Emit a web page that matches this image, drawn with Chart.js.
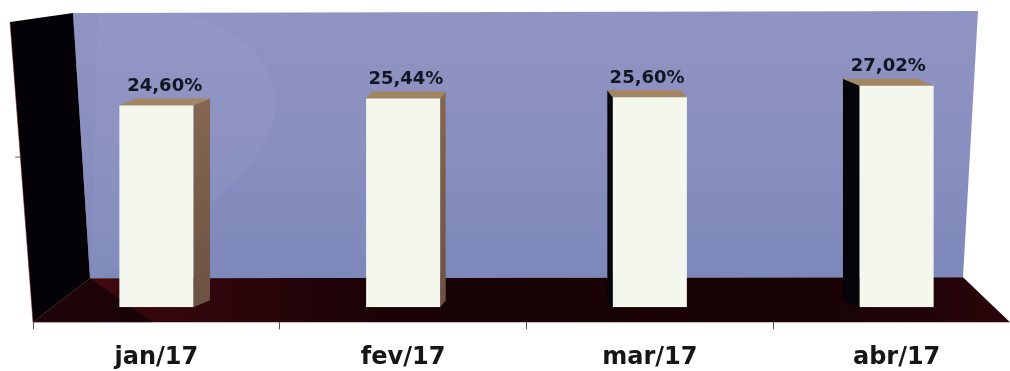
<!DOCTYPE html>
<html>
<head>
<meta charset="utf-8">
<script src="https://cdn.jsdelivr.net/npm/chart.js@4.4.1/dist/chart.umd.min.js"></script>
<style>
  html, body { margin: 0; padding: 0; background: #fff; overflow: hidden; width: 1010px; height: 371px; }
  #wrap { width: 1022px; height: 371px; }
</style>
</head>
<body>
<div id="wrap"><canvas id="chart" width="1022" height="371"></canvas></div>
<script>
const months = ["jan/17", "fev/17", "mar/17", "abr/17"];
const rates = [24.60, 25.44, 25.60, 27.02];
const yMin = 0;
const yMax = 36;

function pct(v) {
  return v.toFixed(2).replace(".", ",") + "%";
}

function poly(ctx, pts, fill) {
  ctx.beginPath();
  ctx.moveTo(pts[0][0], pts[0][1]);
  for (let i = 1; i < pts.length; i++) ctx.lineTo(pts[i][0], pts[i][1]);
  ctx.closePath();
  ctx.fillStyle = fill;
  ctx.fill();
}

// depth offset of a bar, leaning towards the middle of the box
function depth(chart, x) {
  const a = chart.chartArea;
  const mid = (a.left + a.right) / 2;
  return { dx: (x - mid) * -0.045, dy: -7 };
}

// back wall, side wall and floor, then the hidden faces of each bar
const box3d = {
  id: "box3d",
  beforeDatasetsDraw(chart) {
    const ctx = chart.ctx;
    const a = chart.chartArea;
    ctx.save();

    const backTL = [a.left + 40, a.top + 1];
    const backTR = [a.right - 42, a.top - 1];
    const backBR = [a.right - 57, a.bottom - 30];
    const backBL = [a.left + 57, a.bottom - 29];
    const frontL = [a.left, a.bottom + 15];
    const frontR = [a.right - 10, a.bottom + 15];
    const outerTop = [a.left - 23, a.top + 10];

    // back wall
    let g = ctx.createLinearGradient(0, a.top, 0, a.bottom - 30);
    g.addColorStop(0, "#9094c3");
    g.addColorStop(0.5, "#898fbf");
    g.addColorStop(1, "#7d88ba");
    poly(ctx, [backTL, backTR, backBR, backBL], g);

    // faint swirl on the wall
    ctx.beginPath();
    ctx.moveTo(backTL[0] + 25, backTL[1]);
    ctx.lineTo(a.left + 145, a.top + 1);
    ctx.bezierCurveTo(a.left + 230, a.top + 20, a.left + 250, a.top + 70, a.left + 240, a.top + 110);
    ctx.bezierCurveTo(a.left + 225, a.top + 170, a.left + 140, a.top + 220, a.left + 70, a.bottom - 31);
    ctx.lineTo(backBL[0], backBL[1]);
    ctx.closePath();
    ctx.fillStyle = "rgba(255,255,255,0.035)";
    ctx.fill();

    // floor
    g = ctx.createLinearGradient(a.left, 0, a.right, 0);
    g.addColorStop(0, "#4a0b13");
    g.addColorStop(0.12, "#36070d");
    g.addColorStop(0.35, "#1a0306");
    g.addColorStop(0.8, "#180305");
    g.addColorStop(1, "#2a050a");
    poly(ctx, [backBL, backBR, frontR, frontL], g);
    // shadow of the wall on the floor
    poly(ctx, [backBL, [a.left + 120, a.bottom + 15], frontL], "rgba(0,0,0,0.55)");

    // left wall
    poly(ctx, [outerTop, backTL, backBL, frontL], "#040207");
    ctx.beginPath();
    ctx.moveTo(outerTop[0], outerTop[1]);
    ctx.lineTo(frontL[0], frontL[1]);
    ctx.strokeStyle = "rgba(120,30,50,0.5)";
    ctx.lineWidth = 1;
    ctx.stroke();

    // small tick on the wall edge
    const f = 0.45;
    const my = outerTop[1] + (frontL[1] - outerTop[1]) * f;
    const mx = outerTop[0] + (frontL[0] - outerTop[0]) * f;
    ctx.beginPath();
    ctx.moveTo(mx - 5, my);
    ctx.lineTo(mx, my);
    ctx.strokeStyle = "#555";
    ctx.stroke();

    // bar sides and tops
    const meta = chart.getDatasetMeta(0);
    meta.data.forEach((el) => {
      const p = el.getProps(["x", "y", "base", "width"], true);
      const d = depth(chart, p.x);
      const l = p.x - p.width / 2;
      const r = p.x + p.width / 2;
      if (d.dx > 0) {
        const sg = ctx.createLinearGradient(0, p.y, 0, p.base);
        sg.addColorStop(0, "#846650");
        sg.addColorStop(1, "#6a5242");
        poly(ctx, [[r, p.y], [r + d.dx, p.y + d.dy], [r + d.dx, p.base + d.dy], [r, p.base]], sg);
      } else {
        poly(ctx, [[l, p.y], [l + d.dx, p.y + d.dy], [l + d.dx, p.base + d.dy], [l, p.base]], "#050409");
      }
      poly(ctx, [[l, p.y], [l + d.dx, p.y + d.dy], [r + d.dx, p.y + d.dy], [r, p.y]], "#a3855f");
    });
    ctx.restore();
  },
  afterDatasetsDraw(chart) {
    const ctx = chart.ctx;
    const meta = chart.getDatasetMeta(0);
    ctx.save();
    ctx.font = "bold 18px 'DejaVu Sans'";
    ctx.fillStyle = "#121522";
    ctx.textAlign = "center";
    ctx.textBaseline = "middle";
    meta.data.forEach((el, i) => {
      const p = el.getProps(["x", "y"], true);
      const d = depth(chart, p.x);
      ctx.fillText(pct(rates[i]), p.x + d.dx / 2, p.y - 19);
    });
    ctx.restore();
  }
};

new Chart(document.getElementById("chart"), {
  type: "bar",
  data: {
    labels: months,
    datasets: [{
      data: rates,
      backgroundColor: "#f3f7ee",
      borderWidth: 0,
      barPercentage: 0.3,
      categoryPercentage: 1
    }]
  },
  options: {
    responsive: false,
    animation: false,
    layout: { padding: { left: 33, right: 2, top: 12, bottom: -15 } },
    plugins: {
      legend: { display: false },
      tooltip: { enabled: false }
    },
    scales: {
      x: {
        grid: { offset: true, drawOnChartArea: false, tickLength: 22, color: "#555", tickWidth: 1 },
        border: { display: false },
        ticks: {
          padding: 14,
          color: "#161616",
          font: { family: "DejaVu Sans", weight: "bold", size: 24 }
        }
      },
      y: { display: false, min: yMin, max: yMax }
    }
  },
  plugins: [box3d]
});
</script>
</body>
</html>
